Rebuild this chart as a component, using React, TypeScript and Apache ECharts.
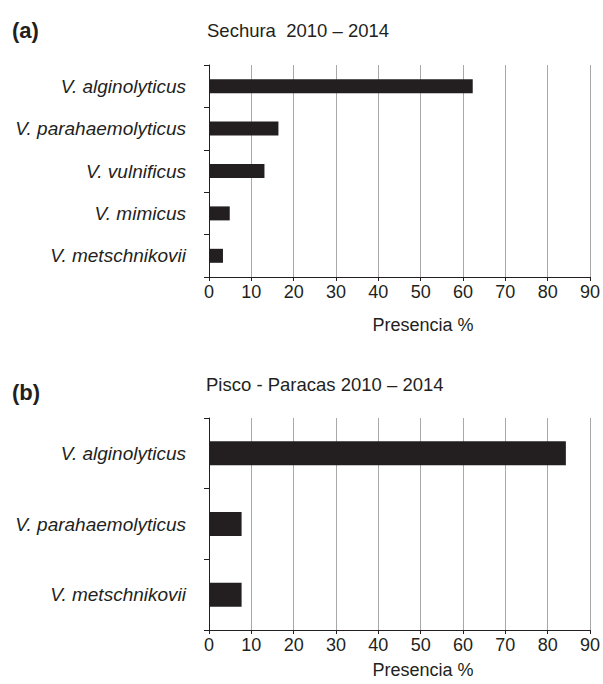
import React, { useEffect, useRef } from "react";
import * as echarts from "echarts";

const speciesA = ["V. alginolyticus", "V. parahaemolyticus", "V. vulnificus", "V. mimicus", "V. metschnikovii"];
const valuesA = [62.3, 16.4, 13.1, 4.9, 3.3];
const speciesB = ["V. alginolyticus", "V. parahaemolyticus", "V. metschnikovii"];
const valuesB = [84.3, 7.7, 7.7];
const titleA = "Sechura  2010 – 2014";
const titleB = "Pisco - Paracas 2010 – 2014";
const axisName = "Presencia %";

const FONT = "Liberation Sans, Arial, Helvetica, sans-serif";
const INK = "#231f20";

export default function App() {
  const ref = useRef<HTMLDivElement>(null);
  useEffect(() => {
    if (!ref.current) return;
    const chart = echarts.init(ref.current, undefined, { renderer: "svg" });
    const xAxisCommon = {
      type: "value" as const,
      min: 0,
      max: 90,
      interval: 10,
      axisLine: { show: true, lineStyle: { color: INK, width: 1 } },
      axisTick: { show: true, length: 4, lineStyle: { color: INK } },
      axisLabel: { color: INK, fontSize: 18, fontFamily: FONT, margin: 6 },
      splitLine: { show: true, lineStyle: { color: "#a8a8a8", width: 1 } },
    };
    const yAxisCommon = {
      type: "category" as const,
      inverse: true,
      axisLine: { show: true, lineStyle: { color: INK, width: 1 } },
      axisTick: { show: true, length: 5, lineStyle: { color: INK } },
      axisLabel: { color: INK, fontSize: 19, fontFamily: FONT, fontStyle: "italic", margin: 23 },
    };
    chart.setOption({
      animation: false,
      backgroundColor: "#ffffff",
      grid: [
        { left: 209, top: 65, width: 381, height: 212 },
        { left: 209, top: 418, width: 381, height: 212 },
      ],
      xAxis: [
        { ...xAxisCommon, gridIndex: 0 },
        { ...xAxisCommon, gridIndex: 1 },
      ],
      yAxis: [
        { ...yAxisCommon, gridIndex: 0, data: speciesA },
        { ...yAxisCommon, gridIndex: 1, data: speciesB },
      ],
      series: [
        { type: "bar", xAxisIndex: 0, yAxisIndex: 0, data: valuesA, barWidth: 14, itemStyle: { color: INK } },
        { type: "bar", xAxisIndex: 1, yAxisIndex: 1, data: valuesB, barWidth: 24, itemStyle: { color: INK } },
      ],
      graphic: [
        { type: "text", x: 12, y: 30, style: { text: "(a)", fontSize: 22, fontWeight: "bold", fontFamily: FONT, fill: INK, textVerticalAlign: "middle" } },
        { type: "text", x: 12, y: 392, style: { text: "(b)", fontSize: 22, fontWeight: "bold", fontFamily: FONT, fill: INK, textVerticalAlign: "middle" } },
        { type: "text", x: 207, y: 30, style: { text: titleA, fontSize: 18.5, fontFamily: FONT, fill: INK, textVerticalAlign: "middle" } },
        { type: "text", x: 206, y: 384, style: { text: titleB, fontSize: 18.5, fontFamily: FONT, fill: INK, textVerticalAlign: "middle" } },
        { type: "text", x: 423, y: 325, style: { text: axisName, fontSize: 18, fontFamily: FONT, fill: INK, textAlign: "center", textVerticalAlign: "middle" } },
        { type: "text", x: 423, y: 670, style: { text: axisName, fontSize: 18, fontFamily: FONT, fill: INK, textAlign: "center", textVerticalAlign: "middle" } },
      ],
    });
    return () => chart.dispose();
  }, []);
  return <div ref={ref} style={{ position: "absolute", left: 0, top: 0, width: 603, height: 684 }} />;
}
